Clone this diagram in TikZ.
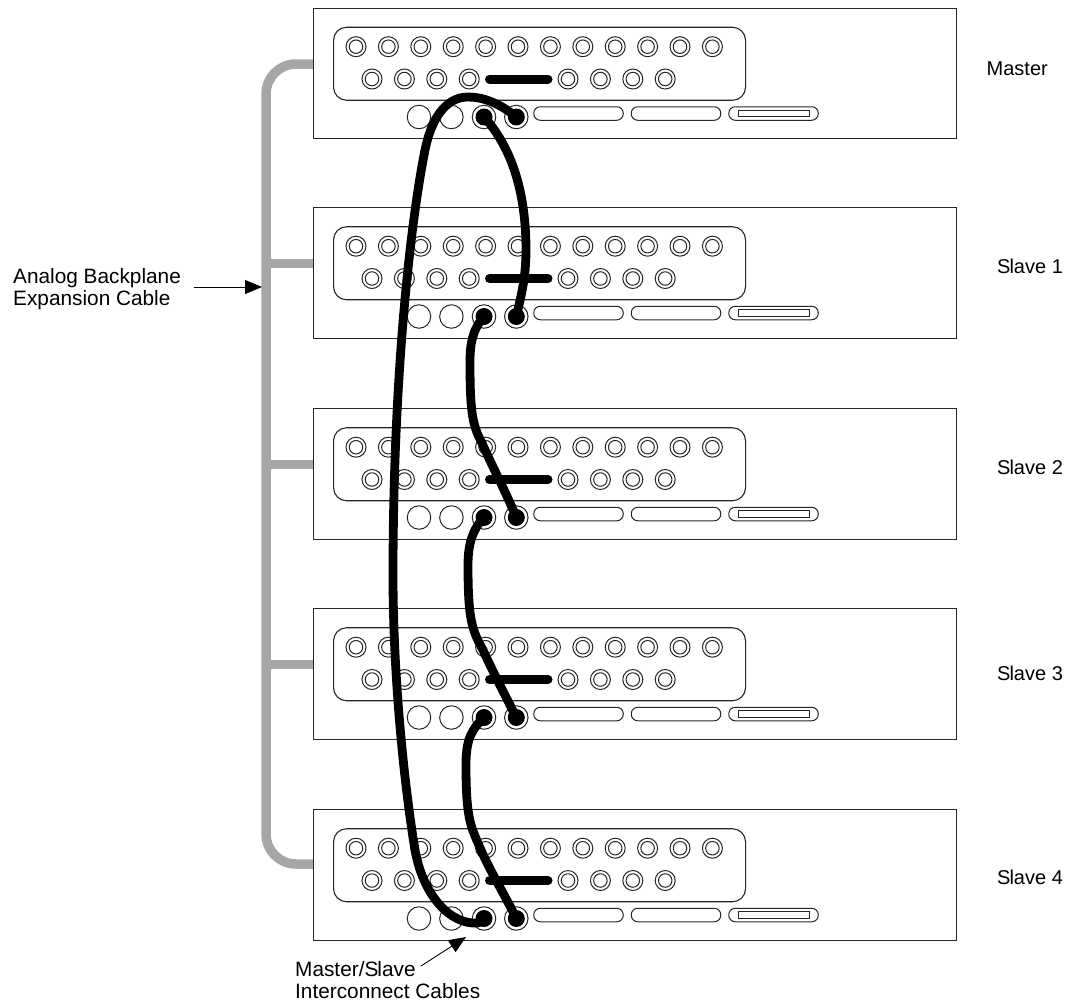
\documentclass[tikz,border=0pt]{standalone}
\usepackage{fontspec}
\setmainfont{Liberation Sans}
\usetikzlibrary{arrows.meta}
\definecolor{cablegrey}{HTML}{A6A6A6}
\tikzset{
  chassis/.style={draw=black!85,line width=1.1pt,rectangle,minimum width=643pt,minimum height=130.5pt,inner sep=0pt,anchor=north west},
  panel/.style={draw=black!85,line width=1.1pt,rectangle,rounded corners=13pt,minimum width=412pt,minimum height=73pt,inner sep=0pt,anchor=north west},
  jackout/.style={draw=black!85,line width=1pt,circle,minimum size=20pt,inner sep=0pt},
  jackin/.style={draw=black!85,line width=1pt,circle,minimum size=13.5pt,inner sep=0pt},
  port/.style={draw=black!85,line width=1pt,circle,minimum size=23.5pt,inner sep=0pt},
  dot/.style={fill=black,circle,minimum size=17pt,inner sep=0pt},
  slot/.style={draw=black!85,line width=1pt,rectangle,rounded corners=6.5pt,minimum width=89.5pt,minimum height=13.5pt,inner sep=0pt},
  slotin/.style={draw=black!85,line width=1pt,rectangle,minimum width=71pt,minimum height=6.5pt,inner sep=0pt},
  cable/.style={line width=8.8pt,line cap=round,line join=round},
  link/.style={line width=9pt,line cap=round},
  backplane/.style={draw=cablegrey,line width=9.5pt},
  pointer/.style={line width=.9pt,-{Triangle[length=17pt,width=14pt]}},
  lab/.style={inner sep=0pt,anchor=base west,font=\fontsize{20}{22}\selectfont},
  labw/.style={inner sep=0pt,anchor=base west,font=\fontsize{20.8}{22}\selectfont},
}
\begin{document}
\begin{tikzpicture}[x=1pt,y=-1pt]
\useasboundingbox (0,0) rectangle (1071,1005);
% backplane anchors
\foreach \r/\o in {0/0,1/199.5,2/400.5,3/600.5,4/800}{
  \pgfmathsetmacro{\yy}{64+\o}
  \coordinate (c\r) at (313,\yy);
}
\coordinate (trunktop) at (266,64);
\coordinate (trunkbot) at (266,864);
\draw[backplane,rounded corners=30pt] (c0) -- (trunktop) -- (trunkbot) -- (c4);
\foreach \r in {1,2,3}{\draw[backplane] (c\r) -- (c\r -| trunktop);}
% racks
\foreach \r/\o in {0/0,1/199.5,2/400.5,3/600.5,4/801.5}{
  \begin{scope}[yshift=-\o pt]
    \node[chassis] (r\r) at (313,7.5) {};
    \node[panel] (r\r panel) at (333,26.7) {};
    \foreach \i in {0,...,11}{
      \pgfmathsetmacro{\xx}{356+32.4*\i}
      \node[jackout] (r\r t\i) at (\xx,46.7) {};
      \node[jackin] (r\r ti\i) at (\xx,46.7) {};
    }
    \foreach \i/\xx in {0/372,1/404.4,2/436.8,3/469.2,4/568,5/600.4,6/632.8,7/665.2}{
      \node[jackout] (r\r b\i) at (\xx,79) {};
      \node[jackin] (r\r bi\i) at (\xx,79) {};
    }
    \coordinate (r\r la) at (489.5,79);
    \coordinate (r\r lb) at (548,79);
    \draw[link] (r\r la) -- (r\r lb);
    \node[port] (r\r p1) at (419,117) {};
    \node[port] (r\r p2) at (451.4,117) {};
    \node[port] (r\r p3) at (484,117) {};
    \node[port] (r\r p4) at (516.3,117) {};
    \node[dot] (r\r d3) at (484,117) {};
    \node[dot] (r\r d4) at (516.3,117) {};
    \node[slot] (r\r s1) at (578.5,113.5) {};
    \node[slot] (r\r s2) at (676,113.5) {};
    \node[slot] (r\r s3) at (773.5,113.5) {};
    \node[slotin] (r\r s3i) at (773.5,113.5) {};
  \end{scope}
}
% interconnect cables
\draw[cable] (r0d4.center) .. controls (498,102) and (482,97) .. (468,97)
  .. controls (445,97) and (431,120) .. (425,150)
  .. controls (410,225) and (393,380) .. (393,575)
  .. controls (393,680) and (405,790) .. (415,850)
  .. controls (423,895) and (450,925) .. (478,923)
  .. controls (481,922) and (483,920) .. (r4d3.center);
\draw[cable] (r0d3.center) .. controls (505,140) and (526,180) .. (526,250)
  .. controls (526,280) and (520,300) .. (r1d4.center);
\draw[cable] (r1d3.center) .. controls (472,330) and (470,345) .. (470,362)
  .. controls (470,410) and (472,425) .. (482,443)
  .. controls (490,462) and (505,490) .. (r2d4.center);
\draw[cable] (r2d3.center) .. controls (472,530) and (468,545) .. (468,565)
  .. controls (468,620) and (472,630) .. (483,650)
  .. controls (491,668) and (505,695) .. (r3d4.center);
\draw[cable] (r3d3.center) .. controls (471,730) and (466,740) .. (466,765)
  .. controls (466,815) and (470,825) .. (478,843)
  .. controls (488,868) and (505,895) .. (r4d4.center);
% labels
\node[lab] (mlab) at (986.5,75.3) {Master};
\node[lab] (s1lab) at (997,273) {S\kern-1pt lave 1};
\node[lab] (s2lab) at (997,474) {S\kern-1pt lave 2};
\node[lab] (s3lab) at (997,680) {S\kern-1pt lave 3};
\node[lab] (s4lab) at (997,884) {S\kern-1pt lave 4};
\node[labw] (bp1) at (13,283) {Analog Backplane};
\node[labw] (bp2) at (13,305) {Expansion Cable};
\node[labw] (ms1) at (295,976) {Master/S\kern-1pt lave};
\node[labw] (ms2) at (295,998) {Interconnect Cables};
% pointers
\coordinate (pa) at (194,287);
\coordinate (pb) at (262,287);
\draw[pointer] (pa) -- (pb);
\coordinate (qa) at (421,966);
\coordinate (qb) at (466,937);
\draw[pointer] (qa) -- (qb);
\end{tikzpicture}
\end{document}
